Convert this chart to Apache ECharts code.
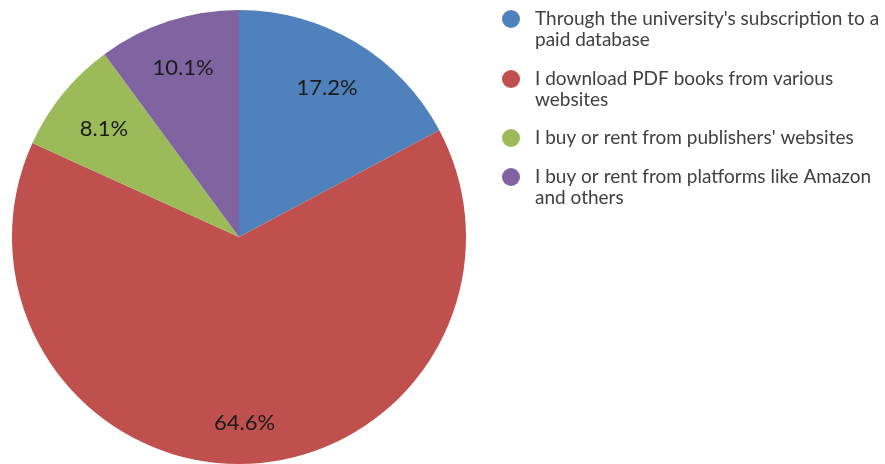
<!DOCTYPE html>
<html><head><meta charset="utf-8">
<script src="https://cdn.jsdelivr.net/npm/echarts@6/dist/echarts.min.js"></script>
<style>html,body{margin:0;padding:0;background:#fff}#c{width:885px;height:464px}</style>
</head><body><div id="c"></div>
<script>
const categories = [
  "Through the university's subscription to a paid database",
  "I download PDF books from various websites",
  "I buy or rent from publishers' websites",
  "I buy or rent from platforms like Amazon and others"
];
const legendLines = [
  "Through the university's subscription to a\npaid database",
  "I download PDF books from various\nwebsites",
  "I buy or rent from publishers' websites",
  "I buy or rent from platforms like Amazon\nand others"
];
const values = [17.2, 64.6, 8.1, 10.1];
const colors = ['#4F81BD', '#C0504D', '#9BBB59', '#8064A2'];

// styling: per-label nudges (pixels)
const labelNudge = [[-4, 4], [0, 7], [4, 5], [0, 1]];

const FONT = 'Lato';
const legendTops = [-12.5, 47.5, 127.5, 145.5];
const legends = categories.map((name, i) => {
  const twoLine = legendLines[i].indexOf('\n') >= 0;
  return {
    orient: 'vertical', left: 502, top: legendTops[i], padding: 0,
    icon: 'circle', itemWidth: 18, itemHeight: 18,
    data: [name], selectedMode: false,
    formatter: () => (twoLine ? '\u00a0\n' : '') + legendLines[i],
    textStyle: {
      fontFamily: FONT, fontSize: 19, color: '#404040', lineHeight: 21,
      padding: [0, 0, 0, 10]
    }
  };
});

const data = categories.map((n, i) => ({ name: n, value: values[i], itemStyle: { color: colors[i] } }));

const option = {
  animation: false,
  legend: legends,
  series: [
    {
      type: 'pie', center: [239, 237], radius: [0, 227], startAngle: 90, clockwise: true,
      data: data, label: { show: false }, labelLine: { show: false },
      itemStyle: { borderWidth: 0 }, silent: true
    },
    {
      type: 'pie', center: [239, 237], radius: [125, 227], startAngle: 90, clockwise: true,
      data: data.map((d, i) => ({ name: d.name, value: d.value, itemStyle: { color: 'rgba(0,0,0,0)' },
        label: { offset: labelNudge[i] } })),
      silent: true, labelLine: { show: false },
      label: {
        show: true, position: 'inside', fontFamily: FONT, fontSize: 22, color: '#1a1a1a',
        formatter: p => p.value.toFixed(1) + '%'
      },
      itemStyle: { borderWidth: 0 }
    }
  ]
};
const chart = echarts.init(document.getElementById('c'), null, { renderer: 'canvas' });
chart.setOption(option);
</script></body></html>
